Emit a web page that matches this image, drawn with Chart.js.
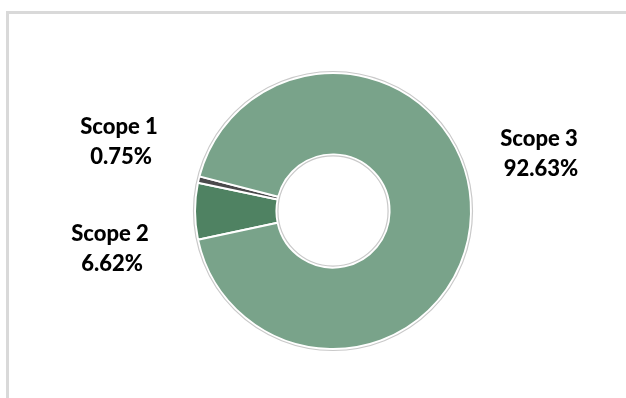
<!DOCTYPE html>
<html lang="en">
<head>
  <meta charset="utf-8">
  <title>Emissions by scope</title>
  <style type="text/css">
    html, body { margin: 0; padding: 0; background: #fff; }
    .frame {
      position: absolute;
      left: 6px;
      top: 11px;
      width: 640px;
      height: 400px;
      border-top: 3px solid #d9d9d9;
      border-left: 3px solid #d9d9d9;
    }
    .chart-container {
      position: absolute;
      left: 0;
      top: 0;
      width: 626px;
      height: 398px;
    }
  </style>
</head>
<body>
  <div class="frame"></div>
  <div class="chart-container">
    <canvas id="scopeChart"></canvas>
  </div>

  <script src="https://cdn.jsdelivr.net/npm/chart.js@4.4.1/dist/chart.umd.min.js"></script>
  <script>
    // slice order follows the picture (clockwise from lower left)
    var scopeLabels = ['Scope 2', 'Scope 1', 'Scope 3'];
    var scopeShares = [6.62, 0.75, 92.63];
    var scopeColors = ['#4f8262', '#4b4a4c', '#79a38a'];

    // where each label sits, relative to the chart centre (px)
    var labelOffsets = [[-223, 38], [-214, -69], [206, -57]];

    var outlinePlugin = {
      id: 'outline',
      afterDatasetsDraw: function(chart) {
        var arc = chart.getDatasetMeta(0).data[0];
        var ctx = chart.ctx;
        ctx.save();
        ctx.strokeStyle = '#c9c9c9';
        ctx.lineWidth = 1.2;
        ctx.beginPath();
        ctx.arc(arc.x, arc.y, arc.outerRadius + 1.5, 0, Math.PI * 2);
        ctx.stroke();
        ctx.beginPath();
        ctx.arc(arc.x, arc.y, arc.innerRadius - 1.5, 0, Math.PI * 2);
        ctx.stroke();
        ctx.restore();
      }
    };

    var labelPlugin = {
      id: 'scopeLabels',
      afterDraw: function(chart) {
        var arc = chart.getDatasetMeta(0).data[0];
        var ctx = chart.ctx;
        ctx.save();
        ctx.fillStyle = '#000';
        ctx.font = '900 22px Lato';
        ctx.textAlign = 'center';
        ctx.textBaseline = 'middle';
        scopeLabels.forEach(function(label, i) {
          var x = arc.x + labelOffsets[i][0];
          var y = arc.y + labelOffsets[i][1];
          ctx.fillText(label, x, y - 15);
          ctx.fillText(scopeShares[i].toFixed(2) + '%', x + 2, y + 15);
        });
        ctx.restore();
      }
    };

    new Chart(document.getElementById('scopeChart').getContext('2d'), {
      type: 'doughnut',
      data: {
        labels: scopeLabels,
        datasets: [{
          data: scopeShares,
          backgroundColor: scopeColors,
          borderColor: '#ffffff',
          borderWidth: 2
        }]
      },
      options: {
        responsive: true,
        maintainAspectRatio: false,
        animation: false,
        rotation: 258,
        cutout: '41%',
        layout: {
          padding: { top: 72, bottom: 48, left: 194, right: 154 }
        },
        plugins: {
          legend: { display: false },
          tooltip: { enabled: false }
        }
      },
      plugins: [outlinePlugin, labelPlugin]
    });
  </script>
</body>
</html>
